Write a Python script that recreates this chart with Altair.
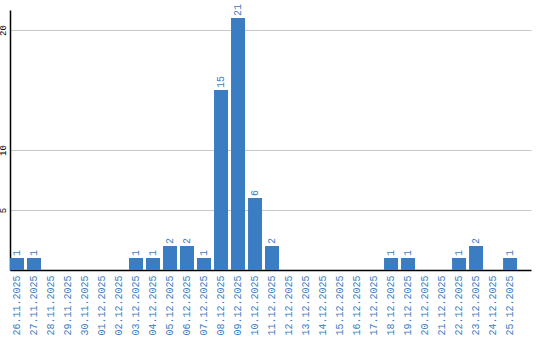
import altair as alt
import pandas as pd

dates = ["26.11.2025", "27.11.2025", "28.11.2025", "29.11.2025", "30.11.2025",
         "01.12.2025", "02.12.2025", "03.12.2025", "04.12.2025", "05.12.2025",
         "06.12.2025", "07.12.2025", "08.12.2025", "09.12.2025", "10.12.2025",
         "11.12.2025", "12.12.2025", "13.12.2025", "14.12.2025", "15.12.2025",
         "16.12.2025", "17.12.2025", "18.12.2025", "19.12.2025", "20.12.2025",
         "21.12.2025", "22.12.2025", "23.12.2025", "24.12.2025", "25.12.2025"]
counts = [1, 1, 0, 0, 0, 0, 0, 1, 1, 2, 2, 1, 15, 21, 6, 2,
          0, 0, 0, 0, 0, 0, 1, 1, 0, 0, 1, 2, 0, 1]
y_ticks = [5, 10, 20]

df = pd.DataFrame({"date": dates, "count": counts})

BLUE = "#3a7dc3"
FONT = "Liberation Mono"

x = alt.X("date:N", sort=dates,
          scale=alt.Scale(paddingInner=0.176, paddingOuter=0.41, align=0),
          axis=alt.Axis(title=None, labelAngle=-90, labelAlign="right", labelBaseline="middle",
                        labelColor=BLUE, labelFont=FONT, labelFontSize=10, labelPadding=5,
                        ticks=False, domainColor="black", domainWidth=1.5, grid=False))
y = alt.Y("count:Q", scale=alt.Scale(domain=[0, 21.67], nice=False, zero=True),
          axis=alt.Axis(title=None, values=y_ticks, labelAngle=-90, labelAlign="center",
                        labelBaseline="bottom", labelFont=FONT, labelFontSize=9, labelColor="black",
                        labelPadding=3, ticks=False, domainColor="black", domainWidth=1.5,
                        grid=True, gridColor="#c8c8c8", gridWidth=1))

bars = alt.Chart(df).mark_bar(color=BLUE).encode(x=x, y=y)
labels = alt.Chart(df).transform_filter("datum.count > 0").mark_text(
    angle=270, align="left", baseline="middle", dx=2, color=BLUE, font=FONT, fontSize=10
).encode(x=alt.X("date:N", sort=dates), y="count:Q", text="count:Q")

chart = (bars + labels).properties(
    width=521, height=260,
    padding={"left": 10, "top": 10, "right": 9, "bottom": 70},
    autosize=alt.AutoSizeParams(type="none"),
).configure_view(stroke=None)

chart.save("out.html", embed_options={"renderer": "svg", "actions": False})
